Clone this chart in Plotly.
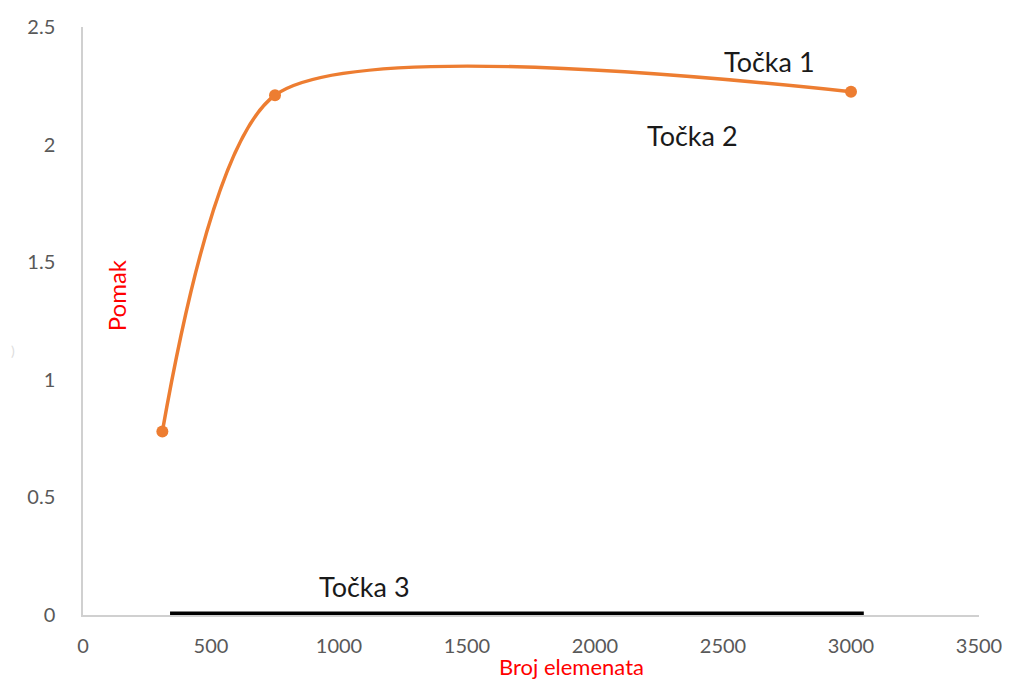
import plotly.graph_objects as go

broj_elemenata = [310, 750, 3000]
pomak = [0.78, 2.21, 2.225]

tocka3_x = [340, 3050]
tocka3_y = [0, 0]

labels = ["Točka 1", "Točka 2", "Točka 3"]
label_x = [2680, 2380, 1100]
label_y = [2.355, 2.04, 0.12]

fig = go.Figure()
fig.add_trace(
    go.Scatter(
        x=tocka3_x,
        y=tocka3_y,
        mode="lines",
        line=dict(color="black", width=7),
        showlegend=False,
        cliponaxis=False,
    )
)
fig.add_trace(
    go.Scatter(
        x=broj_elemenata,
        y=pomak,
        mode="lines+markers",
        line=dict(color="#ED7D31", width=3.5, shape="spline", smoothing=0.7),
        marker=dict(color="#ED7D31", size=12),
        showlegend=False,
        cliponaxis=False,
    )
)

for txt, lx, ly in zip(labels, label_x, label_y):
    fig.add_annotation(
        x=lx, y=ly, text=txt, showarrow=False,
        font=dict(family="Lato", size=27, color="#1a1a1a"),
    )

# axis titles sit inside the plot like in the original
fig.add_annotation(
    x=0.019, y=0.543, xref="paper", yref="paper", text="Pomak",
    textangle=-90, showarrow=False,
    font=dict(family="Lato", size=24, color="red"),
)
fig.add_annotation(
    x=0.545, y=-0.0875, xref="paper", yref="paper", text="Broj elemenata",
    showarrow=False, yanchor="middle",
    font=dict(family="Lato", size=22, color="red"),
)
fig.add_annotation(
    x=-0.083, y=0.45, xref="paper", yref="paper", text=")",
    showarrow=False, font=dict(family="Lato", size=14, color="#dddddd"),
)

axis_font = dict(family="Lato", size=20, color="#595959")
fig.update_xaxes(
    range=[0, 3500], dtick=500, showgrid=False, zeroline=False,
    showline=True, linecolor="#d0d0d0", linewidth=1.5, layer="below traces",
    tickfont=axis_font, ticks="", ticklabelstandoff=12, automargin=False,
)
fig.update_yaxes(
    range=[0, 2.5], dtick=0.5, showgrid=False, zeroline=False,
    showline=True, linecolor="#d0d0d0", linewidth=1.5, layer="below traces",
    tickfont=axis_font, ticks="", ticklabelstandoff=22, automargin=False,
)
# page body has an 8px margin, so the figure is shrunk by that much
fig.update_layout(
    width=1002, height=671,
    margin=dict(l=75, r=31, t=19, b=64),
    plot_bgcolor="white", paper_bgcolor="white",
)

fig.write_html("out.html")
